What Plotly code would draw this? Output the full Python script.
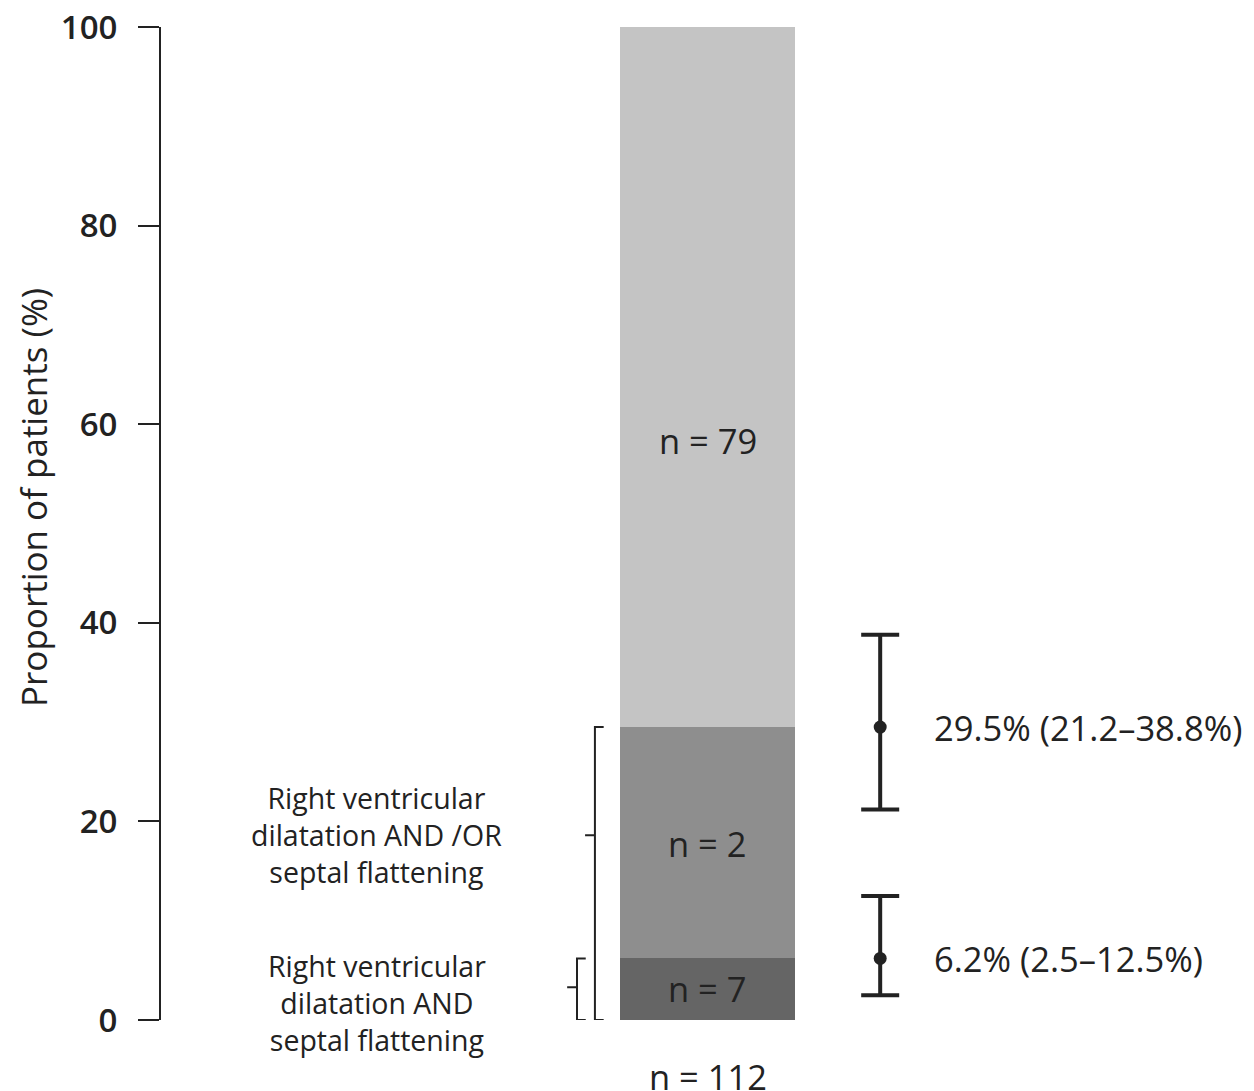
import plotly.graph_objects as go

# ---- data ----
segments = ["Both", "Either only", "Neither"]
segment_values = [6.2, 23.3, 70.5]
segment_labels = ["n = 7", "n = 2", "n = 79"]
segment_label_y = [3.2, 17.8, 58.4]
segment_colors = ["#656565", "#8e8e8e", "#c4c4c4"]
total_label = "n = 112"
total_label_y = -5.7

estimates = [29.5, 6.2]
ci_low = [21.2, 2.5]
ci_high = [38.8, 12.5]
estimate_text = ["29.5% (21.2\u201338.8%)", "6.2% (2.5\u201312.5%)"]

bracket_low = [0, 0]
bracket_high = [29.5, 6.2]
bracket_tick_y = [18.6, 3.3]
bracket_lines = [["Right ventricular", "dilatation AND /OR", "septal flattening"],
                 ["Right ventricular", "dilatation AND", "septal flattening"]]
bracket_text_y = [18.63, 1.71]

y_ticks = [0, 20, 40, 60, 80, 100]
y_title = "Proportion of patients (%)"

# ---- layout helpers ----
Y_MIN, Y_MAX = 0, 100
BAR_X = 5.0
BAR_W = 1.6
ERR_X = 6.58
TXT_X = 7.05
BRACKET_X = [3.97, 3.806]
CAP_LEN = 0.08
TICK_LEN = 0.09
LABEL_X = 1.976
FONT = "Open Sans"
INK = "#222222"


def yp(v):
    """y-axis value -> paper fraction (axis spans the whole plot height)."""
    return (v - Y_MIN) / (Y_MAX - Y_MIN)


fig = go.Figure()

for name, val, col in zip(segments, segment_values, segment_colors):
    fig.add_trace(go.Bar(x=[BAR_X], y=[val], width=BAR_W, name=name,
                         marker=dict(color=col, line=dict(width=0)),
                         showlegend=False, hoverinfo="skip"))

fig.add_trace(go.Scatter(
    x=[ERR_X] * len(estimates), y=estimates, mode="markers",
    marker=dict(color=INK, size=13),
    error_y=dict(type="data", symmetric=False,
                 array=[h - e for h, e in zip(ci_high, estimates)],
                 arrayminus=[e - l for l, e in zip(ci_low, estimates)],
                 color=INK, thickness=4, width=19),
    showlegend=False, hoverinfo="skip"))

annotations = []
for lab, yy in zip(segment_labels, segment_label_y):
    annotations.append(dict(x=BAR_X, y=yy, xref="x", yref="y", text=lab,
                            xanchor="center", yanchor="middle",
                            showarrow=False, font=dict(family=FONT, size=34.5, color=INK)))
annotations.append(dict(x=BAR_X, y=yp(total_label_y), xref="x", yref="paper", text=total_label,
                        xanchor="center", yanchor="middle",
                        showarrow=False, font=dict(family=FONT, size=34.5, color=INK)))
for txt, yy in zip(estimate_text, estimates):
    annotations.append(dict(x=TXT_X, y=yy, xref="x", yref="y", text=txt,
                            xanchor="left", yanchor="middle",
                            showarrow=False, font=dict(family=FONT, size=34.5, color=INK)))
for lines, yc in zip(bracket_lines, bracket_text_y):
    annotations.append(dict(x=LABEL_X, y=yp(yc), xref="x", yref="paper",
                            text="<br>".join(lines), align="center",
                            xanchor="center", yanchor="middle",
                            showarrow=False, font=dict(family=FONT, size=28.5, color=INK)))
annotations.append(dict(x=(33 - 161) / 1093, y=(1020 - 498) / 993, xref="paper", yref="paper",
                        text=y_title, textangle=-90, showarrow=False,
                        xanchor="center", yanchor="middle",
                        font=dict(family=FONT, size=35, color=INK)))

shapes = []
for bx, lo, hi, ty in zip(BRACKET_X, bracket_low, bracket_high, bracket_tick_y):
    path = (f"M {bx + CAP_LEN},{hi} L {bx},{hi} L {bx},{lo} L {bx + CAP_LEN},{lo} "
            f"M {bx - TICK_LEN},{ty} L {bx},{ty}")
    shapes.append(dict(type="path", path=path, xref="x", yref="y",
                       line=dict(color=INK, width=2)))

fig.update_layout(
    width=1246, height=1083,
    margin=dict(l=153, r=0, t=19, b=71, autoexpand=False),
    barmode="stack",
    plot_bgcolor="white", paper_bgcolor="white",
    annotations=annotations, shapes=shapes,
    xaxis=dict(range=[0, 10], visible=False, fixedrange=True, automargin=False),
    yaxis=dict(range=[Y_MIN, Y_MAX], tickvals=y_ticks, showgrid=False, zeroline=False,
               automargin=False,
               showline=True, linecolor=INK, linewidth=2,
               ticks="outside", ticklen=21, tickwidth=2, tickcolor=INK,
               ticklabelstandoff=14, ticklabeloverflow="allow",
               tickfont=dict(family="Open Sans", size=33, color=INK, weight=600)),
)

fig.write_html("out.html")
